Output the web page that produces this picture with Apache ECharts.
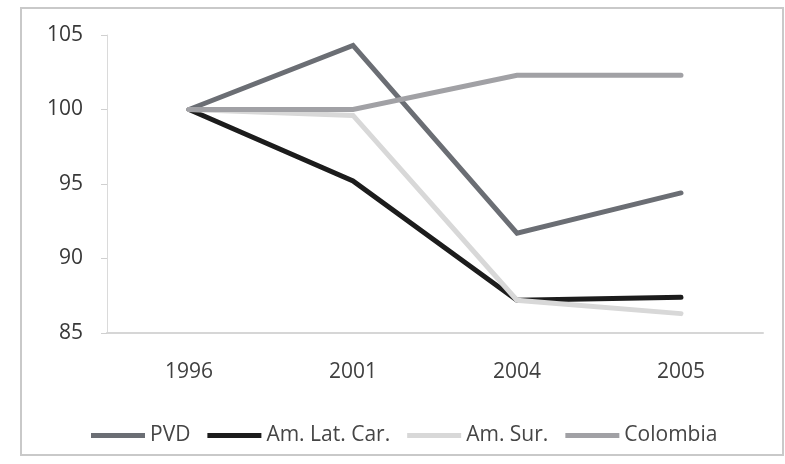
<!DOCTYPE html>
<html>
<head>
<meta charset="utf-8">
<script src="https://cdn.jsdelivr.net/npm/echarts@6/dist/echarts.min.js"></script>
<style>
  html, body { margin: 0; padding: 0; background: #fff; }
  #chart { width: 785px; height: 464px; }
</style>
</head>
<body>
<div id="chart"></div>
<script>
// Index values (1996 = 100)
const years = ['1996', '2001', '2004', '2005'];
const pvd = [100, 104.3, 91.7, 94.4];
const amLatCar = [100, 95.2, 87.2, 87.4];
const amSur = [100, 99.6, 87.2, 86.3];
const colombia = [100, 100, 102.3, 102.3];
const yTicks = [85, 90, 95, 100, 105];

const seriesNames = ['PVD', 'Am. Lat. Car.', 'Am. Sur.', 'Colombia'];
const seriesData = [pvd, amLatCar, amSur, colombia];
const seriesColors = ['#6b6e74', '#1c1c1c', '#d8d8d8', '#a1a1a5'];

const font = '"Open Sans", "Noto Sans", sans-serif';

const chart = echarts.init(document.getElementById('chart'), null, { renderer: 'canvas' });

chart.setOption({
  animation: false,
  backgroundColor: '#ffffff',
  graphic: [{
    type: 'rect',
    shape: { x: 21, y: 8, width: 762, height: 447 },
    style: { fill: 'none', stroke: '#c9c9c9', lineWidth: 2 },
    silent: true
  }],
  grid: { left: 107, right: 22, top: 35, bottom: 131 },
  legend: {
    data: seriesNames,
    left: 86,
    top: 420,
    itemWidth: 54,
    itemHeight: 5,
    itemGap: 17,
    icon: 'rect',
    textStyle: { fontFamily: font, fontSize: 21, color: '#454545' }
  },
  xAxis: {
    type: 'category',
    data: years,
    boundaryGap: true,
    axisLine: { lineStyle: { color: '#d6d6d6', width: 2 } },
    axisTick: { length: 5, lineStyle: { color: '#d6d6d6', width: 1 } },
    axisLabel: { margin: 29, fontFamily: font, fontSize: 21, color: '#404040' },
    splitLine: { show: false }
  },
  yAxis: {
    type: 'value',
    min: yTicks[0],
    max: yTicks[yTicks.length - 1],
    interval: 5,
    axisLine: { show: true, lineStyle: { color: '#dadada', width: 1 } },
    axisTick: { show: true, length: 6, lineStyle: { color: '#d0d0d0' } },
    axisLabel: { margin: 24, fontFamily: font, fontSize: 21, color: '#383838' },
    splitLine: { show: false }
  },
  series: seriesNames.map((name, i) => ({
    name: name,
    type: 'line',
    data: seriesData[i],
    showSymbol: false,
    symbol: 'none',
    z: 2 + i,
    lineStyle: { color: seriesColors[i], width: 5, cap: 'round', join: 'miter' },
    itemStyle: { color: seriesColors[i] }
  }))
});
</script>
</body>
</html>
